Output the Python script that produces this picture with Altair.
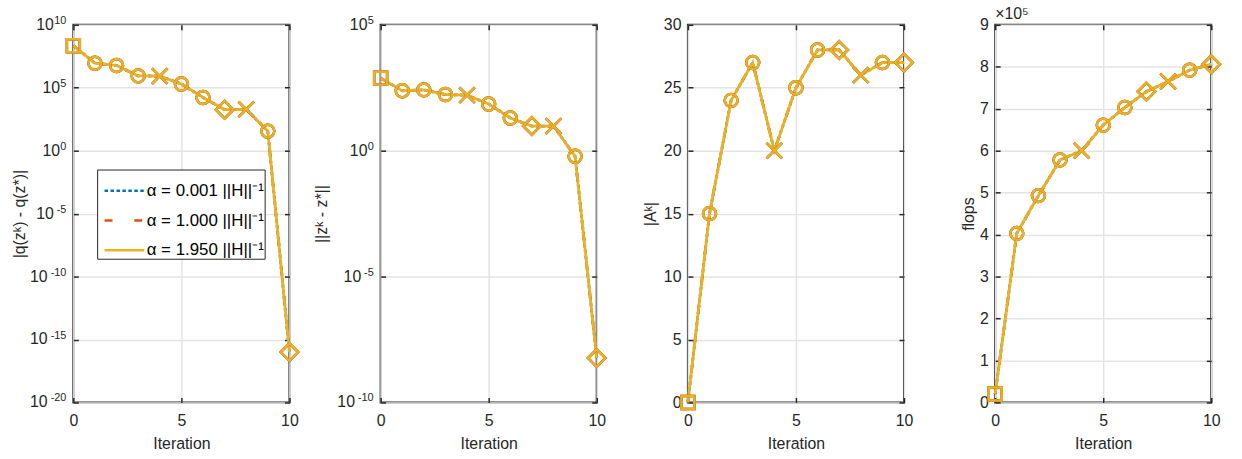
import altair as alt
import pandas as pd

# ---- data -------------------------------------------------------------
iterations = list(range(11))
markers = ["square", "circle", "circle", "circle", "x", "circle",
           "circle", "diamond", "x", "circle", "diamond"]

objective_gap = [2.2e8, 8.9e6, 5.9e6, 8.7e5, 8.5e5, 2.0e5,
                 1.7e4, 1.8e3, 1.9e3, 36.0, 1.0e-16]
iterate_dist = [7.6e2, 2.4e2, 2.6e2, 1.7e2, 1.6e2, 72.0,
                20.0, 9.5, 9.5, 0.6, 5.8e-9]
active_set = [0, 15, 24, 27, 20, 25, 28, 28, 26, 27, 27]
flops = [0.2e5, 4.03e5, 4.93e5, 5.78e5, 6.0e5, 6.61e5,
         7.03e5, 7.41e5, 7.65e5, 7.92e5, 8.06e5]

series_labels = ["α = 0.001 ||H||⁻¹", "α = 1.000 ||H||⁻¹", "α = 1.950 ||H||⁻¹"]
series_colors = ["#0072BD", "#D95319", "#EDB120"]
series_dashes = [[3.5, 2.5], [8, 22], [1, 0]]

x_ticks = [0, 5, 10]
gap_exponents = [-20, -15, -10, -5, 0, 5, 10]
dist_exponents = [-10, -5, 0, 5]
active_ticks = [0, 5, 10, 15, 20, 25, 30]
flops_ticks = [i * 1e5 for i in range(10)]

# ---- styling ----------------------------------------------------------
FONT = "Liberation Sans"
AX = "#262626"
PANEL_W = 218
PANEL_H = 381
TICK = 5
LABEL_PAD = 7

marker_domain = ["square", "circle", "x", "diamond"]
marker_paths = [
    "M-1,-1L1,-1L1,1L-1,1Z",
    "circle",
    "M-1.2,-1.2L1.2,1.2M-1.2,1.2L1.2,-1.2",
    "M0,-1.35L1.35,0L0,1.35L-1.35,0Z",
]

color_scale = alt.Scale(domain=series_labels, range=series_colors)
dash_scale = alt.Scale(domain=series_labels, range=series_dashes)
shape_scale = alt.Scale(domain=marker_domain, range=marker_paths)
x_scale = alt.Scale(domain=[0, 10], nice=False, zero=False)


def power_labels(exponents, y_scale):
    """Tick labels of the form 10^e, with the exponent set as a superscript."""
    df = pd.DataFrame({
        "value": [10.0 ** e for e in exponents],
        "exp": [str(e) for e in exponents],
    })
    base = alt.Chart(df).transform_calculate(
        shift="-length(datum.exp) * 6.3"
    )
    mantissa = base.mark_text(
        align="right", baseline="middle", fontSize=16, color=AX, font=FONT
    ).encode(
        x=alt.value(-LABEL_PAD),
        xOffset=alt.XOffset("shift:Q", scale=None),
        y=alt.Y("value:Q", scale=y_scale, axis=None),
        text=alt.value("10"),
    )
    exponent = base.mark_text(
        align="right", baseline="alphabetic", fontSize=11, dy=-1,
        color=AX, font=FONT
    ).encode(
        x=alt.value(-LABEL_PAD),
        y=alt.Y("value:Q", scale=y_scale, axis=None),
        text="exp:N",
    )
    return [mantissa, exponent]


def make_panel(values, y_scale, y_ticks, y_title, title_x,
               label_expr=None, exponents=None, legend=None, header=None):
    n = len(iterations)
    df = pd.DataFrame({
        "iteration": iterations * len(series_labels),
        "value": values * len(series_labels),
        "marker": markers * len(series_labels),
        "series": [s for s in series_labels for _ in range(n)],
    })
    base = alt.Chart(df)

    y_axis_kw = dict(orient="left", values=y_ticks, grid=True, ticks=False,
                     domain=False, labelPadding=LABEL_PAD, labelFlush=False,
                     title=y_title, titleX=-title_x, titleBaseline="middle")
    if exponents is not None:
        y_axis_kw["labels"] = False
    if label_expr is not None:
        y_axis_kw["labelExpr"] = label_expr

    # labelled axes with grid
    main_axes = base.mark_point(opacity=0).encode(
        x=alt.X("iteration:Q", scale=x_scale,
                axis=alt.Axis(orient="bottom", values=x_ticks, grid=True,
                              ticks=False, domain=False, labelPadding=10,
                              labelFlush=False, title="Iteration", titleY=46,
                              titleBaseline="alphabetic")),
        y=alt.Y("value:Q", scale=y_scale, axis=alt.Axis(**y_axis_kw)),
    )

    # short inward-pointing tick marks on all four sides
    def inner_ticks(x_orient, y_orient):
        tick_kw = dict(offset=-TICK, ticks=True, tickSize=TICK, tickWidth=1.5,
                       tickColor=AX, labels=False, domain=False, grid=False,
                       title=None)
        return base.mark_point(opacity=0).encode(
            x=alt.X("iteration:Q", scale=x_scale,
                    axis=alt.Axis(orient=x_orient, values=x_ticks, **tick_kw)),
            y=alt.Y("value:Q", scale=y_scale,
                    axis=alt.Axis(orient=y_orient, values=y_ticks, **tick_kw)),
        )

    lines = base.mark_line(strokeWidth=2.8).encode(
        x=alt.X("iteration:Q", scale=x_scale, axis=None),
        y=alt.Y("value:Q", scale=y_scale, axis=None),
        color=alt.Color("series:N", scale=color_scale, legend=legend),
        strokeDash=alt.StrokeDash("series:N", scale=dash_scale, legend=legend),
    )

    points = base.mark_point(filled=False, size=170, strokeWidth=2.5,
                             opacity=1).encode(
        x=alt.X("iteration:Q", scale=x_scale, axis=None),
        y=alt.Y("value:Q", scale=y_scale, axis=None),
        stroke=alt.Stroke("series:N", scale=color_scale, legend=None),
        shape=alt.Shape("marker:N", scale=shape_scale, legend=None),
    )

    layers = [main_axes, lines, points,
              inner_ticks("bottom", "left"), inner_ticks("top", "right")]
    if exponents is not None:
        layers += power_labels(exponents, y_scale)

    layered = alt.layer(*layers).resolve_axis(x="independent", y="independent")

    props = dict(width=PANEL_W, height=PANEL_H)
    if header is not None:
        props["title"] = header
    return layered.properties(**props)


legend = alt.Legend(
    title=None, orient="none", legendX=24, legendY=146,
    symbolType="stroke", symbolSize=1600, symbolStrokeWidth=2.5,
    symbolOffset=6, labelFontSize=17, labelColor="#000000", labelOffset=1,
    padding=0, rowPadding=-3.5, strokeColor=AX, fillColor="white",
)

p1 = make_panel(
    objective_gap,
    alt.Scale(type="log", domain=[1e-20, 1e10], nice=False),
    [10.0 ** e for e in gap_exponents],
    "|q(zᵏ) - q(z*)|", 54,
    exponents=gap_exponents,
    legend=legend,
)
p2 = make_panel(
    iterate_dist,
    alt.Scale(type="log", domain=[1e-10, 1e5], nice=False),
    [10.0 ** e for e in dist_exponents],
    "||zᵏ - z*||", 60,
    exponents=dist_exponents,
)
p3 = make_panel(
    active_set,
    alt.Scale(domain=[0, 30], nice=False, zero=False),
    active_ticks,
    "|Aᵏ|", 38,
)
p4 = make_panel(
    flops,
    alt.Scale(domain=[0, 9e5], nice=False, zero=False),
    flops_ticks,
    "flops", 27,
    label_expr="format(datum.value / 100000, 'd')",
    header=alt.TitleParams("×10⁵", anchor="start", frame="group",
                           fontSize=16, fontWeight="normal", color=AX,
                           offset=-5),
)

chart = alt.hconcat(
    p1, p2, p3, p4, spacing=92, bounds="flush"
).resolve_scale(
    color="independent", strokeDash="independent",
    stroke="independent", shape="independent",
).properties(
    padding={"left": 11, "top": 3, "right": 16, "bottom": 4},
).configure(
    font=FONT,
).configure_view(
    stroke=AX, strokeWidth=2,
).configure_axis(
    labelFont=FONT, labelFontSize=16, labelColor=AX,
    titleFont=FONT, titleFontSize=16, titleFontWeight="normal", titleColor=AX,
    gridColor="#E3E3E3", gridWidth=1.5,
).configure_legend(
    labelFont=FONT,
)

chart.save("out.html", embed_options={"renderer": "svg", "actions": False})
